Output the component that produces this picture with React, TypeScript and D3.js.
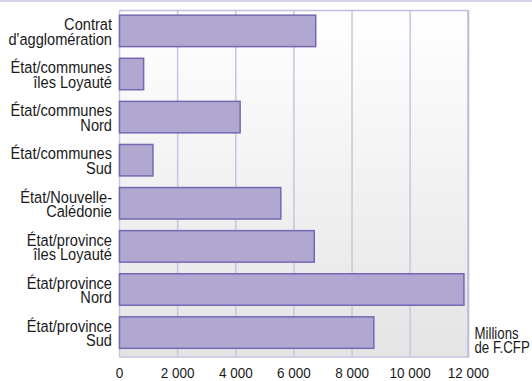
import React from "react";
import * as d3 from "d3";

// Financement par type de contrat, en millions de F.CFP
const categories: string[][] = [
  ["Contrat", "d'agglomération"],
  ["État/communes", "îles Loyauté"],
  ["État/communes", "Nord"],
  ["État/communes", "Sud"],
  ["État/Nouvelle-", "Calédonie"],
  ["État/province", "îles Loyauté"],
  ["État/province", "Nord"],
  ["État/province", "Sud"],
];
const amounts: number[] = [6750, 830, 4150, 1150, 5550, 6700, 11850, 8750];
const tickValues: number[] = [0, 2000, 4000, 6000, 8000, 10000, 12000];
const unitLines: string[] = ["Millions", "de F.CFP"];

const W = 532;
const H = 381;
const M = { left: 119.5, right: 468.3, top: 10.5, bottom: 357 };
const FONT = "'Liberation Sans', Arial, sans-serif";
// condensed look obtained by squeezing a regular sans horizontally
const SQUEEZE_CAT = 0.86;
const SQUEEZE_TICK = 0.9;
const SQUEEZE_UNIT = 0.78;

const keys = categories.map((c) => c.join(" "));

export default function App() {
  const x = d3.scaleLinear().domain([0, 12000]).range([M.left, M.right]);
  const y = d3
    .scaleBand<string>()
    .domain(keys)
    .range([M.top, M.bottom])
    .paddingInner(0.27)
    .paddingOuter(0.155)
    .align(0.35);
  const fmt = (v: number) => d3.format(",")(v).replace(",", " ");

  return (
    <svg
      width={W}
      height={H}
      style={{ position: "absolute", left: 0, top: 0, display: "block" }}
      fontFamily={FONT}
    >
      <defs>
        <linearGradient id="plotBg" x1="0" y1="0" x2="0" y2="1">
          <stop offset="0" stopColor="#ffffff" />
          <stop offset="1" stopColor="#e4e4e4" />
        </linearGradient>
      </defs>
      <rect x={0} y={0} width={W} height={H} fill="#ffffff" />
      <line x1={0} x2={W} y1={1} y2={1} stroke="#d6d0e8" strokeWidth={2} />

      <rect
        x={M.left}
        y={M.top}
        width={M.right - M.left}
        height={M.bottom - M.top}
        fill="url(#plotBg)"
      />
      {tickValues.map((t) => (
        <line
          key={t}
          x1={x(t)}
          x2={x(t)}
          y1={M.top}
          y2={M.bottom}
          stroke="#cbc3e2"
          strokeWidth={1.5}
        />
      ))}
      <line x1={M.left} x2={M.right} y1={M.top} y2={M.top} stroke="#c3bbde" strokeWidth={1.5} />
      <line x1={M.left} x2={M.right + 1} y1={M.bottom} y2={M.bottom} stroke="#cbc3e2" strokeWidth={1.5} />
      <line x1={M.right} x2={M.right} y1={M.top} y2={M.bottom} stroke="#c3bbde" strokeWidth={2} />

      {amounts.map((v, i) => (
        <rect
          key={keys[i]}
          x={x(0)}
          y={y(keys[i])!}
          width={x(v) - x(0)}
          height={y.bandwidth()}
          fill="#b0a8d1"
          stroke="#7767b3"
          strokeWidth={1.5}
        />
      ))}

      {categories.map((lines, i) => {
        const cy = y(keys[i])! + y.bandwidth() / 2;
        return (
          <text
            key={keys[i]}
            transform={`translate(112,${cy}) scale(${SQUEEZE_CAT},1)`}
            textAnchor="end"
            fontSize={17}
            fill="#1a1a1a"
          >
            <tspan x={0} y={-0.8}>
              {lines[0]}
            </tspan>
            <tspan x={0} y={13.9}>
              {lines[1]}
            </tspan>
          </text>
        );
      })}

      {tickValues.map((t) => (
        <text
          key={t}
          transform={`translate(${x(t)},377.7) scale(${SQUEEZE_TICK},1)`}
          textAnchor="middle"
          fontSize={15}
          fill="#1a1a1a"
        >
          {fmt(t)}
        </text>
      ))}

      <text transform={`translate(474.5,0) scale(${SQUEEZE_UNIT},1)`} fontSize={17} fill="#1a1a1a">
        {unitLines.map((l, i) => (
          <tspan key={l} x={0} y={339 + i * 14}>
            {l}
          </tspan>
        ))}
      </text>
    </svg>
  );
}
